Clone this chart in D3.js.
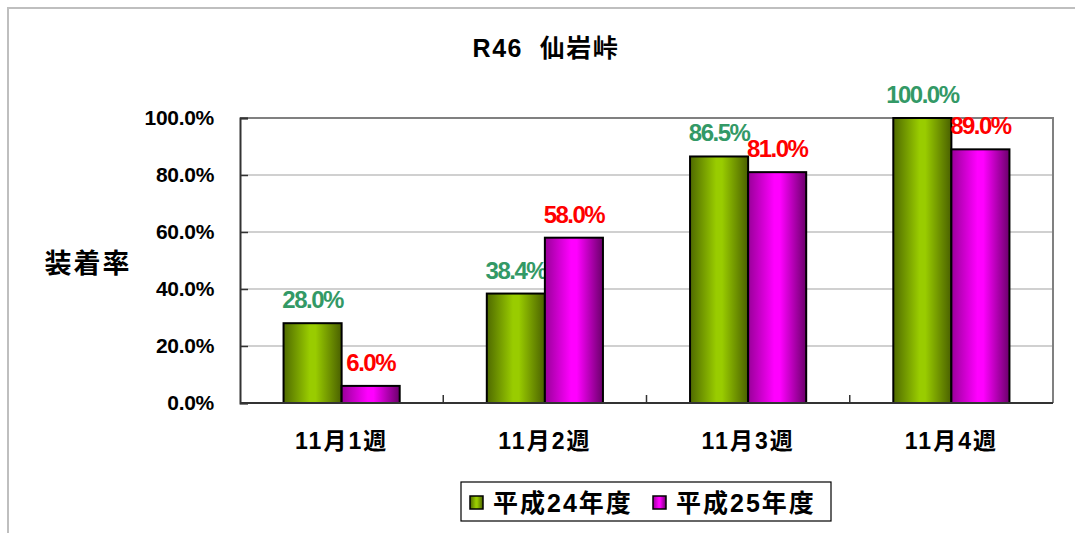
<!DOCTYPE html>
<html lang="ja">
<head>
<meta charset="utf-8">
<script src="https://d3js.org/d3.v7.min.js"></script>
<style>
  body, html { margin: 0; padding: 0; background: #fff; }
  svg { display: block; font-family: "Liberation Sans", "Noto Sans CJK JP", sans-serif; font-weight: bold; }
</style>
</head>
<body>
<div id="chart"></div>
<script>
// chart data
const chartTitle = "R46\u00a0\u00a0仙岩峠";
const yLabel = "装着率";
const categories = ["11月1週", "11月2週", "11月3週", "11月4週"];
const seriesNames = ["平成24年度", "平成25年度"];
const h24 = [28.0, 38.4, 86.5, 100.0];
const h25 = [6.0, 58.0, 81.0, 89.0];
const yTicks = [0, 20, 40, 60, 80, 100];

const width = 1075, height = 533;
const plot = { left: 240, right: 1053, top: 118, bottom: 403 };

const svg = d3.select("#chart").append("svg")
    .attr("width", width)
    .attr("height", height);

// gradients for the bars (dark edges, bright middle)
const defs = svg.append("defs");
const grads = [
  { id: "gGreen", edgeL: "#4f6a00", mid: "#99cc00", edgeR: "#4a6000" },
  { id: "gMagenta", edgeL: "#990099", mid: "#ff00ff", edgeR: "#6a006a" }
];
grads.forEach(gr => {
  const lg = defs.append("linearGradient").attr("id", gr.id)
      .attr("x1", 0).attr("x2", 1).attr("y1", 0).attr("y2", 0);
  lg.append("stop").attr("offset", "0%").attr("stop-color", gr.edgeL);
  lg.append("stop").attr("offset", "45%").attr("stop-color", gr.mid);
  lg.append("stop").attr("offset", "55%").attr("stop-color", gr.mid);
  lg.append("stop").attr("offset", "100%").attr("stop-color", gr.edgeR);
});

// outer chart border (only top/left visible)
svg.append("rect")
    .attr("x", 8).attr("y", 8)
    .attr("width", width + 20).attr("height", height + 20)
    .attr("fill", "none")
    .attr("stroke", "#bfbfbf")
    .attr("stroke-width", 2);

// category bands, Excel gap width 150% -> two bars take 2/3.5 of a band
const x0 = d3.scaleBand()
    .domain(categories)
    .range([plot.left, plot.right]);
const catW = x0.bandwidth();
const barW = catW / 3.5;
const x1 = d3.scaleBand()
    .domain([0, 1])
    .range([(catW - 2 * barW) / 2, (catW + 2 * barW) / 2]);

const y = d3.scaleLinear().domain([0, 100]).range([plot.bottom, plot.top]);

// gridlines
svg.append("g")
  .selectAll("line")
  .data(yTicks.filter(t => t > 0 && t < 100))
  .join("line")
    .attr("x1", plot.left).attr("x2", plot.right)
    .attr("y1", d => y(d)).attr("y2", d => y(d))
    .attr("stroke", "#c0c0c0").attr("stroke-width", 1.5);

// plot frame top/right
svg.append("path")
    .attr("d", `M${plot.left},${plot.top}H${plot.right}V${plot.bottom}`)
    .attr("fill", "none")
    .attr("stroke", "#808080")
    .attr("stroke-width", 2);

// bars
const series = [
  { name: seriesNames[0], values: h24, fill: "url(#gGreen)", labelColor: "#339966" },
  { name: seriesNames[1], values: h25, fill: "url(#gMagenta)", labelColor: "#ff0000" }
];

series.forEach((s, si) => {
  const g = svg.append("g");
  g.selectAll("rect")
    .data(s.values)
    .join("rect")
      .attr("x", (d, i) => x0(categories[i]) + x1(si))
      .attr("y", d => y(d))
      .attr("width", x1.bandwidth())
      .attr("height", d => y(0) - y(d))
      .attr("fill", s.fill)
      .attr("stroke", "#000")
      .attr("stroke-width", 2);
  g.selectAll("text")
    .data(s.values)
    .join("text")
      .attr("x", (d, i) => x0(categories[i]) + x1(si) + x1.bandwidth() / 2)
      .attr("y", d => y(d) - 15)
      .attr("text-anchor", "middle")
      .attr("font-size", 24)
      .attr("fill", s.labelColor)
      .attr("letter-spacing", -1.5)
      .text(d => d.toFixed(1) + "%");
});

// y axis
const yAxis = d3.axisLeft(y).tickValues(yTicks).tickSize(-8).tickPadding(26)
    .tickFormat(d => d.toFixed(1) + "%");
const ya = svg.append("g")
    .attr("transform", `translate(${plot.left},0)`)
    .call(yAxis);
ya.select(".domain").attr("stroke", "#333").attr("stroke-width", 2);
ya.selectAll(".tick line").attr("stroke", "#333").attr("stroke-width", 1.5);
ya.selectAll(".tick text")
    .attr("font-size", 21)
    .attr("font-family", "Liberation Sans, sans-serif")
    .attr("font-weight", "bold")
    .attr("fill", "#000")
    .attr("letter-spacing", -0.3);

// x axis
const xa = svg.append("g")
    .attr("transform", `translate(0,${plot.bottom})`);
xa.append("line")
    .attr("x1", plot.left).attr("x2", plot.right)
    .attr("stroke", "#333").attr("stroke-width", 2);
xa.selectAll("line.tick")
  .data(categories.slice(1))
  .join("line")
    .attr("class", "tick")
    .attr("x1", d => x0(d)).attr("x2", d => x0(d))
    .attr("y1", 0).attr("y2", -8)
    .attr("stroke", "#333").attr("stroke-width", 1.5);
xa.selectAll("text")
  .data(categories)
  .join("text")
    .attr("x", d => x0(d) + catW / 2)
    .attr("y", 46)
    .attr("text-anchor", "middle")
    .attr("font-size", 23)
    .attr("letter-spacing", 2)
    .attr("fill", "#000")
    .text(d => d);

// title
svg.append("text")
    .attr("x", 546).attr("y", 57)
    .attr("text-anchor", "middle")
    .attr("font-size", 25)
    .attr("letter-spacing", 1.5)
    .text(chartTitle);

// y label
svg.append("text")
    .attr("x", 88).attr("y", 273)
    .attr("text-anchor", "middle")
    .attr("font-size", 27)
    .attr("letter-spacing", 2)
    .text(yLabel);

// legend
const legend = svg.append("g");
legend.append("rect")
    .attr("x", 461).attr("y", 482)
    .attr("width", 370).attr("height", 39)
    .attr("fill", "#fff").attr("stroke", "#000").attr("stroke-width", 1.2);
const legX = [470, 653];
series.forEach((s, i) => {
  legend.append("rect")
      .attr("x", legX[i]).attr("y", 496)
      .attr("width", 13).attr("height", 13)
      .attr("fill", s.fill).attr("stroke", "#000").attr("stroke-width", 1.5);
  legend.append("text")
      .attr("x", legX[i] + 23).attr("y", 512)
      .attr("font-size", 25)
      .attr("letter-spacing", 2)
      .text(s.name);
});
</script>
</body>
</html>
